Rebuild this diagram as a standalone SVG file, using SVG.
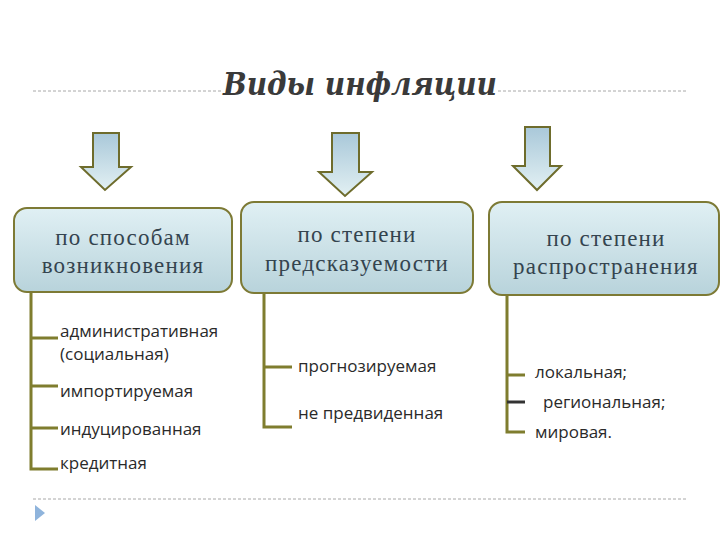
<svg xmlns="http://www.w3.org/2000/svg" width="720" height="540" viewBox="0 0 720 540">
<defs>
<linearGradient id="boxg" x1="0" y1="0" x2="0" y2="1">
<stop offset="0" stop-color="#e0f0f4"/>
<stop offset="1" stop-color="#b8d3db"/>
</linearGradient>
<linearGradient id="arrg" x1="0" y1="0" x2="0" y2="1">
<stop offset="0" stop-color="#a9c8d9"/>
<stop offset="1" stop-color="#e2f0f3"/>
</linearGradient>
<style>
.box{fill:url(#boxg);stroke:#7d7a35;stroke-width:2}
.arr{fill:url(#arrg);stroke:#6e6c2c;stroke-width:2;stroke-linejoin:miter}
.hdr{font-family:"Liberation Serif","DejaVu Serif",serif;font-size:23px;fill:#34444f;text-anchor:middle;letter-spacing:1.2px}
.item{font-family:"Open Sans","Liberation Sans",sans-serif;font-size:17px;fill:#2a2a2a}
.tree{stroke:#7f7d2e;stroke-width:3;fill:none}
.dash{stroke:#a8a8a8;stroke-width:1;stroke-dasharray:3 2}
</style>
</defs>
<rect width="720" height="540" fill="#ffffff"/>
<g id="title">
<line class="dash" x1="33" y1="91" x2="222" y2="91"/>
<line class="dash" x1="498" y1="91" x2="688" y2="91"/>
<text x="360" y="95" text-anchor="middle" font-family="'DejaVu Serif','Liberation Serif',serif" font-size="31" font-style="italic" font-weight="bold" fill="#3a3a3a" textLength="274" lengthAdjust="spacingAndGlyphs">Виды инфляции</text>
</g>
<g id="footer">
<line class="dash" x1="33" y1="499" x2="688" y2="499"/>
<polygon points="35,505 45,513 35,521" fill="#8fb4dc"/>
</g>
<g id="arrows">
<polygon class="arr" points="93,133 119,133 119,167 131,167 105,190 81,167 93,167"/>
<polygon class="arr" points="332,133 359,133 359,172 372,172 345,196 319,172 332,172"/>
<polygon class="arr" points="525,127 550,127 550,166 561,166 537,190 513,166 525,166"/>
</g>
<g id="connectors">
<path class="tree" d="M31,292 V469 H58 M31,338 H58 M31,386 H58 M31,428 H58"/>
<path class="tree" d="M264,293 V427 H292 M264,367 H292"/>
<path class="tree" d="M507,295 V432 H525 M507,375 H525"/>
<line x1="507" y1="402" x2="525" y2="402" stroke="#333" stroke-width="3"/>
</g>
<g id="node1">
<rect class="box" x="14" y="208" width="218" height="84" rx="13"/>
<text class="hdr" x="123" y="245">по способам</text>
<text class="hdr" x="123" y="273">возникновения</text>
</g>
<g id="node2">
<rect class="box" x="241" y="202" width="232" height="91" rx="13"/>
<text class="hdr" x="357" y="242">по степени</text>
<text class="hdr" x="357" y="271">предсказуемости</text>
</g>
<g id="node3">
<rect class="box" x="489" y="202" width="230" height="93" rx="13"/>
<text class="hdr" x="606" y="246">по степени</text>
<text class="hdr" x="606" y="274">распространения</text>
</g>
<g id="items1">
<text class="item" x="60" y="337">административная</text>
<text class="item" x="60" y="360">(социальная)</text>
<text class="item" x="60" y="397">импортируемая</text>
<text class="item" x="60" y="435">индуцированная</text>
<text class="item" x="60" y="469">кредитная</text>
</g>
<g id="items2">
<text class="item" x="298" y="372">прогнозируемая</text>
<text class="item" x="298" y="419">не предвиденная</text>
</g>
<g id="items3">
<text class="item" x="535" y="378">локальная;</text>
<text class="item" x="543" y="408">региональная;</text>
<text class="item" x="535" y="438">мировая.</text>
</g>
</svg>
